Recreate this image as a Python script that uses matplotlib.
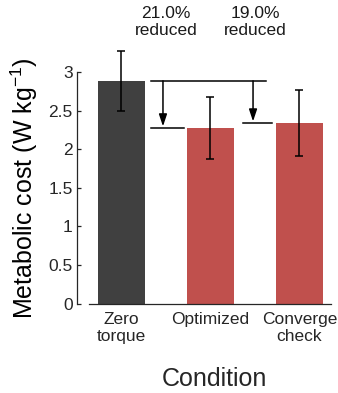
import matplotlib
matplotlib.use("Agg")
import matplotlib.pyplot as plt

plt.rcParams["font.family"] = ["Liberation Sans", "DejaVu Sans"]

# ── data ────────────────────────────────────────────────────────────────────
conditions = ["Zero\ntorque", "Optimized", "Converge\ncheck"]
cost_mean  = [2.885, 2.276, 2.340]
cost_sd    = [0.388, 0.397, 0.430]
bar_colors = ["#404040", "#C0504D", "#C0504D"]
reductions = ["21.0%\nreduced", "19.0%\nreduced"]

ink = "#262626"

fig = plt.figure(figsize=(3.38, 3.93), dpi=100)
ax = fig.add_axes([77 / 338, 89.3 / 393, 254 / 338, 231.7 / 393])

xpos = [1, 2, 3]
ax.bar(xpos, cost_mean, width=0.53, color=bar_colors, zorder=2)
ax.errorbar(xpos, cost_mean, yerr=cost_sd, fmt="none", ecolor="black",
            elinewidth=1.1, capsize=2.7, capthick=1.1, zorder=3, clip_on=False)

# ── reduction annotations ────────────────────────────────────────────────────
base = cost_mean[0]
ax.plot([1.33, 2.625], [base, base], color="black", lw=1.1, clip_on=False)
ax.plot([1.33, 1.70], [cost_mean[1]] * 2, color="black", lw=1.1, clip_on=False)
ax.plot([2.365, 2.69], [cost_mean[2]] * 2, color="black", lw=1.1, clip_on=False)
for xa, ytip in [(1.466, cost_mean[1]), (2.478, cost_mean[2])]:
    ax.annotate("", xy=(xa, ytip + 0.02), xytext=(xa, base),
                arrowprops=dict(arrowstyle="-|>,head_length=0.6,head_width=0.2",
                                color="black", lw=1.1,
                                mutation_scale=12, shrinkA=0, shrinkB=0),
                annotation_clip=False)
for xt, txt in zip([1.5, 2.5], reductions):
    ax.text(xt, 3.65, txt, ha="center", va="center", fontsize=12.5,
            color="#1a1a1a", linespacing=1.15)

# ── axes styling ─────────────────────────────────────────────────────────────
ax.set_xlim(0.5, 3.354)
ax.set_ylim(0, 3)
ax.set_yticks([0, 0.5, 1, 1.5, 2, 2.5, 3])
ax.set_yticklabels(["0", "0.5", "1", "1.5", "2", "2.5", "3"])
ax.set_xticks(xpos)
ax.set_xticklabels(conditions)

for side in ["top", "right"]:
    ax.spines[side].set_visible(False)
ax.spines["left"].set_bounds(0, 3)
ax.spines["bottom"].set_bounds(0.635, 3.354)
for side in ["left", "bottom"]:
    ax.spines[side].set_color(ink)
    ax.spines[side].set_linewidth(0.9)

ax.tick_params(axis="both", direction="in", length=3, width=0.9,
               colors=ink, labelsize=12.5)
ax.tick_params(axis="y", pad=3)
ax.tick_params(axis="x", pad=6)

ax.set_ylabel("Metabolic cost (W kg$^{\\mathregular{-1}}$)", fontsize=18,
              color="black")
ax.yaxis.set_label_coords(-0.145, 0.5)
ax.set_xlabel("Condition", fontsize=18, color=ink)
ax.xaxis.set_label_coords(0.54, -0.275)

fig.savefig("out.png", dpi=100)
